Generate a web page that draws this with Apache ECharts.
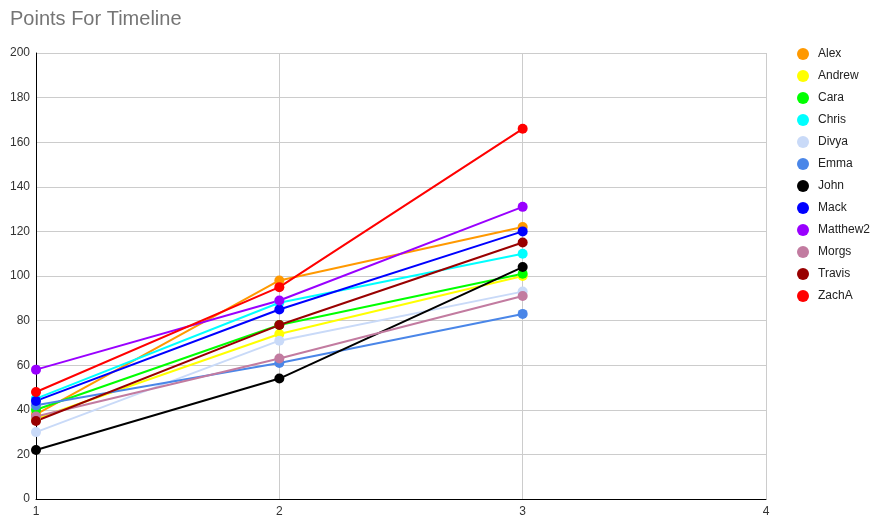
<!DOCTYPE html>
<html><head><meta charset="utf-8">
<script src="https://cdn.jsdelivr.net/npm/echarts@6/dist/echarts.min.js"></script>
<style>html,body{margin:0;padding:0;background:#fff}#c{width:874px;height:529px}</style>
</head><body><div id="c"></div>
<script>
const weeks = [1, 2, 3];
const names = ["Alex","Andrew","Cara","Chris","Divya","Emma","John","Mack","Matthew2","Morgs","Travis","ZachA"];
const colors = ["#ff9900","#ffff00","#00ff00","#00ffff","#c9daf8","#4a86e8","#000000","#0000ff","#9900ff","#c27ba0","#990000","#ff0000"];
const alex = [38, 98, 122];
const andrew = [36, 74, 100];
const cara = [40, 78, 101];
const chris = [45, 88, 110];
const divya = [30, 71, 93];
const emma = [42, 61, 83];
const john = [22, 54, 104];
const mack = [44, 85, 120];
const matthew2 = [58, 89, 131];
const morgs = [37, 63, 91];
const travis = [35, 78, 115];
const zacha = [48, 95, 166];
const values = [alex, andrew, cara, chris, divya, emma, john, mack, matthew2, morgs, travis, zacha];
const yTicks = {min: 0, max: 200, interval: 20};
const xTicks = {min: 1, max: 4, interval: 1};

const chart = echarts.init(document.getElementById('c'));
chart.setOption({
  animation: false,
  textStyle: {fontFamily: 'Arial, Liberation Sans, sans-serif'},
  title: {text: 'Points For Timeline', left: 5, top: 4,
    textStyle: {fontSize: 20, fontWeight: 'normal', color: '#757575', fontFamily: 'Arial, Liberation Sans, sans-serif'}},
  legend: {orient: 'vertical', left: 792, top: 43, itemWidth: 12, itemHeight: 12, itemGap: 10,
    icon: 'circle', textStyle: {fontSize: 12, color: '#222', padding: [0,0,0,4]},
    data: names},
  grid: {left: 36, right: 108, top: 53, bottom: 30, containLabel: false},
  xAxis: {type: 'value', min: xTicks.min, max: xTicks.max, interval: xTicks.interval,
    axisLine: {show: true, onZero: false, lineStyle: {color: '#000', width: 1}},
    axisTick: {show: false},
    axisLabel: {color: '#333', fontSize: 12, margin: 7},
    splitLine: {show: true, lineStyle: {color: '#cccccc'}}},
  yAxis: {type: 'value', min: yTicks.min, max: yTicks.max, interval: yTicks.interval,
    axisLine: {show: true, lineStyle: {color: '#000', width: 1}},
    axisTick: {show: false},
    axisLabel: {color: '#333', fontSize: 12, margin: 6},
    splitLine: {show: true, lineStyle: {color: '#cccccc'}}},
  series: names.map((n, i) => ({
    name: n, type: 'line', data: weeks.map((w, j) => [w, values[i][j]]),
    color: colors[i], symbol: 'circle', symbolSize: 10, showSymbol: true,
    lineStyle: {width: 2, color: colors[i]}, itemStyle: {color: colors[i]},
    emphasis: {disabled: true}
  }))
});
</script></body></html>
